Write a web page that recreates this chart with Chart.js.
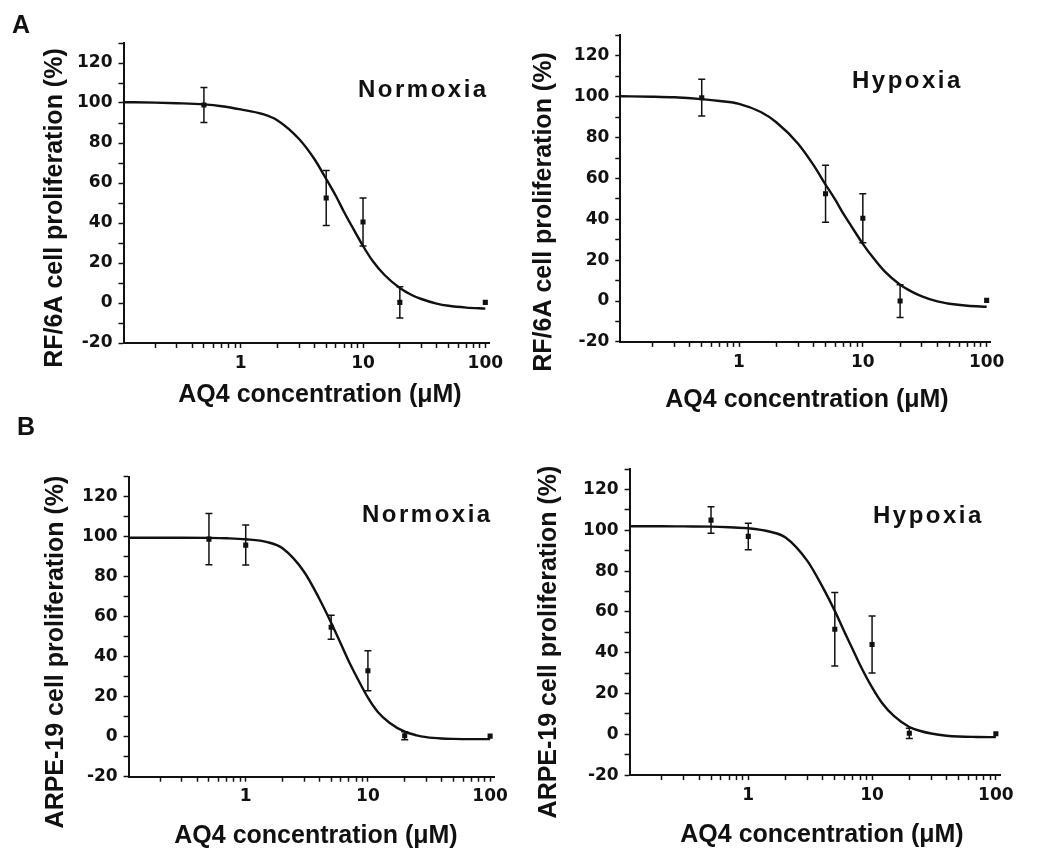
<!DOCTYPE html>
<html>
<head>
<meta charset="utf-8">
<script src="https://cdn.jsdelivr.net/npm/chart.js@4.4.1/dist/chart.umd.min.js"></script>
<style>
  body { margin: 0; background: #fff; }
  canvas { position: absolute; }
</style>
</head>
<body>
<canvas id="rfNorm" width="520" height="415" style="left:0;top:0"></canvas>
<canvas id="rfHyp" width="530" height="415" style="left:520px;top:0"></canvas>
<canvas id="arpeNorm" width="520" height="439" style="left:0;top:415px"></canvas>
<canvas id="arpeHyp" width="530" height="439" style="left:520px;top:415px"></canvas>
<script>
// doses (µM)
const doseA = [0.5, 5, 10, 20, 100];
const doseB = [0.5, 1, 5, 10, 20, 100];
const fitX = [0.11, 0.2, 0.3, 0.5, 0.7, 1, 1.5, 2, 3, 4, 5, 6, 7, 8, 10, 12, 15, 20, 25, 30, 40, 50, 70, 100];

// A: RF/6A
const rfNormMean = [99, 52.5, 40.5, 0.3, 0.3];
const rfNormErr  = [8.8, 13.7, 12, 7.8, 0];
const rfNormFit  = [100.4, 100.2, 99.9, 99.3, 98.4, 96.8, 94.5, 91.3, 82, 72, 62, 53.5, 45.5, 39,
                    28.5, 21, 14, 7.5, 4, 2, -0.3, -1.4, -2.3, -2.8];

const rfHypMean = [99.5, 52.5, 40.5, 0, 0.3];
const rfHypErr  = [9, 14, 12, 8, 0];
const rfHypFit  = [100.2, 100, 99.7, 98.8, 97.9, 96.5, 92.5, 87.5, 77, 66.5, 57, 49.5, 42.5, 37,
                   28, 21.5, 14.5, 8, 4.5, 2.3, -0.2, -1.3, -2.3, -2.8];

// B: ARPE-19
const arpeNormMean = [98.8, 95.8, 54.7, 33, 0.5, 0.3];
const arpeNormErr  = [12.8, 10, 6, 10, 2, 0];
const arpeNormFit  = [99.5, 99.5, 99.5, 99.4, 99.2, 98.7, 97.3, 94.2, 82.5, 69, 57, 46.5, 37.5, 30.5,
                      19.5, 12.5, 7, 2.5, 0.7, -0.2, -0.9, -1.1, -1.2, -1.2];

const arpeHypMean = [105, 97, 51.5, 44, 0.5, 0.3];
const arpeHypErr  = [6.5, 6.5, 18, 14, 2.5, 0];
const arpeHypFit  = [102, 102, 101.9, 101.8, 101.5, 101, 99.3, 96.5, 85, 72, 60.5, 50, 41.5, 34,
                     23, 15.5, 9, 3.6, 1.5, 0.4, -0.7, -1.1, -1.3, -1.4];

// axis ticks
const xTickValues = [0.2, 0.3, 0.4, 0.5, 0.6, 0.7, 0.8, 0.9, 1, 2, 3, 4, 5, 6, 7, 8, 9, 10,
                     20, 30, 40, 50, 60, 70, 80, 90, 100];
const xTickLabels = ['1', '10', '100'];
const yTickValues = [-20, -10, 0, 10, 20, 30, 40, 50, 60, 70, 80, 90, 100, 110, 120, 130];
const yTickLabels = ['-20', '0', '20', '40', '60', '80', '100', '120'];

const ink = '#111';
const tickFont = { family: '"DejaVu Sans", sans-serif', size: 17, weight: 'bold' };

// error bars for the point dataset (index 1)
const errorBars = {
  id: 'errorBars',
  afterDatasetsDraw(chart, args, o) {
    const { ctx, scales: { x, y } } = chart;
    const pts = chart.data.datasets[1].data;
    ctx.save();
    ctx.strokeStyle = ink;
    ctx.lineWidth = 1.5;
    pts.forEach((p, i) => {
      if (!o.err[i]) return;
      const px = x.getPixelForValue(p.x);
      const top = y.getPixelForValue(p.y + o.err[i]);
      const bot = y.getPixelForValue(p.y - o.err[i]);
      ctx.beginPath();
      ctx.moveTo(px, top); ctx.lineTo(px, bot);
      ctx.moveTo(px - 3.5, top); ctx.lineTo(px + 3.5, top);
      ctx.moveTo(px - 3.5, bot); ctx.lineTo(px + 3.5, bot);
      ctx.stroke();
    });
    ctx.restore();
  }
};

// panel letter, condition label and axis titles
const panelText = {
  id: 'panelText',
  afterDraw(chart, args, o) {
    const ctx = chart.ctx;
    ctx.save();
    ctx.fillStyle = ink;
    ctx.textBaseline = 'alphabetic';
    ctx.textAlign = 'left';
    if (o.letter) {
      ctx.font = 'bold 25px "Liberation Sans", Arial, sans-serif';
      ctx.fillText(o.letter, o.letterAt[0], o.letterAt[1]);
    }
    ctx.font = 'bold 24px "Liberation Sans", Arial, sans-serif';
    ctx.letterSpacing = '2.5px';
    ctx.fillText(o.cond, o.condAt[0], o.condAt[1]);
    ctx.letterSpacing = '0px';
    ctx.font = 'bold 25px "Liberation Sans", Arial, sans-serif';
    ctx.textAlign = 'center';
    ctx.fillText('AQ4 concentration (μM)', o.xAt[0], o.xAt[1]);
    ctx.translate(o.yAt[0], o.yAt[1]);
    ctx.rotate(-Math.PI / 2);
    ctx.textBaseline = 'middle';
    ctx.fillText(o.yTitle, 0, 0);
    ctx.restore();
  }
};

function makePanel(id, doses, mean, err, fit, box, text) {
  const points = doses.map((d, i) => ({ x: d, y: mean[i] }));
  const curve = fitX.map((d, i) => ({ x: d, y: fit[i] }));
  return new Chart(document.getElementById(id), {
    type: 'scatter',
    data: {
      datasets: [
        { data: curve, showLine: true, borderColor: ink, borderWidth: 2.4, pointRadius: 0,
          cubicInterpolationMode: 'monotone', fill: false },
        { data: points, showLine: false, pointStyle: 'rect', pointRadius: 3.6,
          backgroundColor: ink, borderColor: ink, borderWidth: 0 }
      ]
    },
    options: {
      responsive: false,
      animation: false,
      layout: { padding: { top: box.top, right: box.right, bottom: box.bottom, left: 0 } },
      plugins: {
        legend: { display: false },
        tooltip: { enabled: false },
        errorBars: { err: err },
        panelText: text
      },
      scales: {
        x: {
          type: 'logarithmic', min: 0.11, max: 108,
          afterBuildTicks: s => { s.ticks = xTickValues.map(v => ({ value: v })); },
          afterFit: s => { s.height = 40; },
          ticks: {
            autoSkip: false, maxRotation: 0, padding: 5, color: ink, font: tickFont,
            callback: v => xTickLabels.includes(String(v)) ? String(v) : ''
          },
          grid: { drawOnChartArea: false, tickLength: 5, tickWidth: 1.5, tickColor: ink },
          border: { color: ink, width: 2 }
        },
        y: {
          min: -20, max: 130,
          afterBuildTicks: s => { s.ticks = yTickValues.map(v => ({ value: v })); },
          afterFit: s => { s.width = box.left; },
          ticks: {
            autoSkip: false, padding: 6, color: ink, font: tickFont,
            callback: v => yTickLabels.includes(String(v)) ? String(v) : ''
          },
          grid: { drawOnChartArea: false, tickLength: 5, tickWidth: 1.5, tickColor: ink },
          border: { color: ink, width: 2 }
        }
      }
    },
    plugins: [errorBars, panelText]
  });
}

makePanel('rfNorm', doseA, rfNormMean, rfNormErr, rfNormFit,
  { left: 123.5, right: 30.6, top: 43, bottom: 32 },
  { letter: 'A', letterAt: [12, 33], cond: 'Normoxia', condAt: [358, 97],
    xAt: [320, 401.5], yAt: [55, 208], yTitle: 'RF/6A cell proliferation (%)' });

makePanel('rfHyp', doseA, rfHypMean, rfHypErr, rfHypFit,
  { left: 100.3, right: 59.2, top: 35.4, bottom: 33.1 },
  { cond: 'Hypoxia', condAt: [332, 88],
    xAt: [287, 407], yAt: [24, 212], yTitle: 'RF/6A cell proliferation (%)' });

makePanel('arpeNorm', doseB, arpeNormMean, arpeNormErr, arpeNormFit,
  { left: 128.6, right: 25.8, top: 61.7, bottom: 37.3 },
  { letter: 'B', letterAt: [17, 20], cond: 'Normoxia', condAt: [362, 107],
    xAt: [316, 427.5], yAt: [56, 237], yTitle: 'ARPE-19 cell proliferation (%)' });

makePanel('arpeHyp', doseB, arpeHypMean, arpeHypErr, arpeHypFit,
  { left: 109.6, right: 50, top: 54.1, bottom: 38.9 },
  { cond: 'Hypoxia', condAt: [353, 108],
    xAt: [302, 427], yAt: [29, 227], yTitle: 'ARPE-19 cell proliferation (%)' });
</script>
</body>
</html>
